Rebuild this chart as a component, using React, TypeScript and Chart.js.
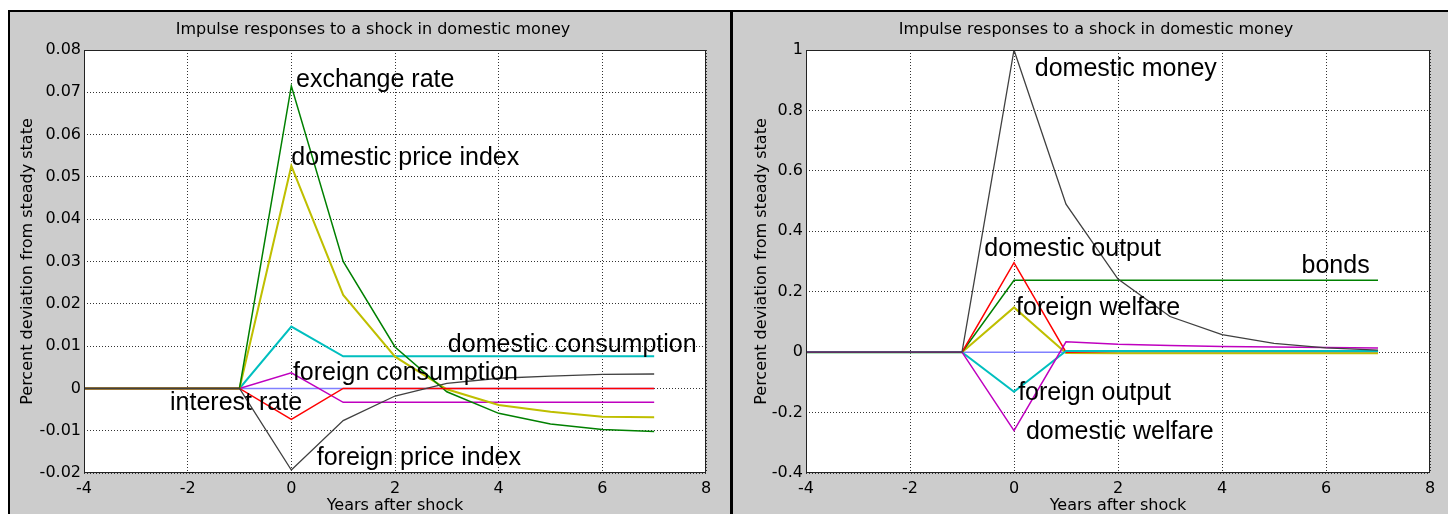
import React, { useEffect, useRef } from "react";
import { Chart, registerables } from "chart.js";

Chart.register(...registerables);

// ---------- data ----------
const years = [-4, -3, -2, -1, 0, 1, 2, 3, 4, 5, 6, 7];
const xTicks = [-4, -2, 0, 2, 4, 6, 8];
const leftYTicks = [-0.02, -0.01, 0, 0.01, 0.02, 0.03, 0.04, 0.05, 0.06, 0.07, 0.08];
const rightYTicks = [-0.4, -0.2, 0, 0.2, 0.4, 0.6, 0.8, 1];

// left panel series
const exchangeRate = [0, 0, 0, 0, 0.0715, 0.03, 0.0098, -0.0008, -0.0059, -0.0084, -0.0097, -0.0102];
const domesticPriceIndex = [0, 0, 0, 0, 0.0526, 0.0221, 0.0075, -0.0002, -0.0039, -0.0055, -0.0067, -0.0068];
const domesticConsumption = [0, 0, 0, 0, 0.0146, 0.0076, 0.0076, 0.0076, 0.0076, 0.0076, 0.0076, 0.0076];
const foreignConsumption = [0, 0, 0, 0, 0.0037, -0.0033, -0.0033, -0.0033, -0.0033, -0.0033, -0.0033, -0.0033];
const interestRate = [0, 0, 0, 0, -0.0073, 0, 0, 0, 0, 0, 0, 0];
const foreignPriceIndex = [0, 0, 0, 0, -0.0193, -0.0076, -0.0018, 0.0012, 0.0024, 0.0029, 0.0033, 0.0034];
const leftFlat = [0, 0, 0, 0, 0, 0, 0, 0, 0, 0, 0, 0];

// right panel series
const domesticMoney = [0, 0, 0, 0, 1, 0.49, 0.242, 0.118, 0.058, 0.029, 0.014, 0.007];
const domesticOutput = [0, 0, 0, 0, 0.296, 0, 0.003, 0.003, 0.003, 0.003, 0.003, 0.003];
const bonds = [0, 0, 0, 0, 0.238, 0.238, 0.238, 0.238, 0.238, 0.238, 0.238, 0.238];
const foreignWelfare = [0, 0, 0, 0, 0.148, -0.003, -0.004, -0.004, -0.004, -0.004, -0.004, -0.004];
const foreignOutput = [0, 0, 0, 0, -0.131, 0.004, 0.004, 0.004, 0.004, 0.004, 0.004, 0.004];
const domesticWelfare = [0, 0, 0, 0, -0.26, 0.034, 0.026, 0.022, 0.019, 0.017, 0.015, 0.014];
const rightFlat = [0, 0, 0, 0, 0, 0, 0, 0, 0, 0, 0, 0];

// text labels (anchored in data coordinates)
const leftLabels = [
  { text: "exchange rate", x: 0.09, y: 0.0713 },
  { text: "domestic price index", x: 0.0, y: 0.0528 },
  { text: "domestic consumption", x: 3.02, y: 0.0087 },
  { text: "foreign consumption", x: 0.03, y: 0.002 },
  { text: "interest rate", x: -2.34, y: -0.0051 },
  { text: "foreign price index", x: 0.49, y: -0.0181 },
];
const rightLabels = [
  { text: "domestic money", x: 0.4, y: 0.915 },
  { text: "domestic output", x: -0.57, y: 0.318 },
  { text: "bonds", x: 5.53, y: 0.261 },
  { text: "foreign welfare", x: 0.04, y: 0.1225 },
  { text: "foreign output", x: 0.08, y: -0.157 },
  { text: "domestic welfare", x: 0.23, y: -0.289 },
];

const TITLE = "Impulse responses to a shock in domestic money";
const AXIS_FONT = '"DejaVu Sans", sans-serif';
const LABEL_FONT = '"Liberation Sans", Arial, sans-serif';

const C = {
  gray: "#404040",
  red: "#ff0000",
  green: "#008000",
  yellow: "#bfbf00",
  magenta: "#bf00bf",
  cyan: "#00bfbf",
  blue: "#8080ff",
};

const toPoints = (vals: number[]) => years.map((x, i) => ({ x, y: vals[i] }));

const framePlugin = {
  id: "frame",
  beforeDraw(chart: any) {
    const { ctx, chartArea } = chart;
    ctx.save();
    ctx.fillStyle = "#ffffff";
    ctx.fillRect(chartArea.left, chartArea.top, chartArea.right - chartArea.left, chartArea.bottom - chartArea.top);
    ctx.restore();
  },
  afterDraw(chart: any, _args: any, opts: any) {
    const { ctx, chartArea } = chart;
    ctx.save();
    ctx.strokeStyle = "#222";
    ctx.lineWidth = 1;
    ctx.setLineDash([]);
    const l = Math.round(chartArea.left) + 0.5;
    const t = Math.round(chartArea.top) + 0.5;
    const r = Math.round(chartArea.right) - 0.5;
    const b = Math.round(chartArea.bottom) - 0.5;
    ctx.strokeRect(l, t, r - l, b - t);

    ctx.fillStyle = "#000";
    ctx.font = `16px ${AXIS_FONT}`;
    ctx.textAlign = "center";
    ctx.textBaseline = "middle";
    ctx.fillText(opts.title, opts.titleX, opts.titleY);

    const xs = chart.scales.x;
    const ys = chart.scales.y;
    ctx.font = `25px ${LABEL_FONT}`;
    ctx.textAlign = "left";
    ctx.textBaseline = "alphabetic";
    for (const lab of opts.labels) {
      ctx.fillText(lab.text, xs.getPixelForValue(lab.x), ys.getPixelForValue(lab.y));
    }
    ctx.restore();
  },
};

type PanelSpec = {
  datasets: { data: number[]; color: string; width?: number }[];
  yTicks: number[];
  labels: { text: string; x: number; y: number }[];
  yAxisWidth: number;
  rightPad: number;
  yTitlePad: number;
};

function buildConfig(spec: PanelSpec): any {
  const yMin = spec.yTicks[0];
  const yMax = spec.yTicks[spec.yTicks.length - 1];
  const gridCommon = { color: "#333", lineWidth: 1, drawTicks: false };
  return {
    type: "line",
    data: {
      datasets: spec.datasets.map((d) => ({
        data: toPoints(d.data),
        borderColor: d.color,
        backgroundColor: d.color,
        borderWidth: d.width ?? 1.5,
        pointRadius: 0,
        tension: 0,
        fill: false,
      })),
    },
    options: {
      responsive: false,
      maintainAspectRatio: false,
      animation: false,
      events: [],
      layout: { padding: { left: 0, right: spec.rightPad, top: 38, bottom: 0 } },
      plugins: {
        legend: { display: false },
        tooltip: { enabled: false },
        title: { display: false },
        frame: { title: TITLE, titleX: 363, titleY: 18, labels: spec.labels },
      },
      scales: {
        x: {
          type: "linear",
          min: xTicks[0],
          max: xTicks[xTicks.length - 1],
          afterBuildTicks: (s: any) => {
            s.ticks = xTicks.map((v) => ({ value: v }));
          },
          afterFit: (s: any) => {
            s.height = 41;
          },
          grid: gridCommon,
          border: { display: false, dash: [1, 2] },
          ticks: {
            padding: 6,
            color: "#000",
            autoSkip: false,
            maxRotation: 0,
            font: { family: AXIS_FONT, size: 16 },
            callback: (v: any) => String(v),
          },
          title: {
            display: true,
            text: "Years after shock",
            color: "#000",
            font: { family: AXIS_FONT, size: 16, lineHeight: 1 },
            padding: { top: 0, bottom: 0 },
          },
        },
        y: {
          type: "linear",
          min: yMin,
          max: yMax,
          afterBuildTicks: (s: any) => {
            s.ticks = spec.yTicks.map((v) => ({ value: v }));
          },
          afterFit: (s: any) => {
            s.width = spec.yAxisWidth;
          },
          grid: gridCommon,
          border: { display: false, dash: [1, 2] },
          ticks: {
            padding: 3,
            color: "#000",
            autoSkip: false,
            font: { family: AXIS_FONT, size: 16 },
            callback: (v: any) => String(+Number(v).toFixed(2)),
          },
          title: {
            display: true,
            text: "Percent deviation from steady state",
            color: "#000",
            font: { family: AXIS_FONT, size: 16, lineHeight: 1 },
            padding: { top: spec.yTitlePad, bottom: 0 },
          },
        },
      },
    },
    plugins: [framePlugin],
  };
}

const leftSpec: PanelSpec = {
  datasets: [
    { data: foreignPriceIndex, color: C.gray, width: 1.3 },
    { data: interestRate, color: C.red },
    { data: exchangeRate, color: C.green },
    { data: domesticPriceIndex, color: C.yellow, width: 2 },
    { data: foreignConsumption, color: C.magenta },
    { data: domesticConsumption, color: C.cyan, width: 2 },
    { data: leftFlat, color: C.blue },
  ],
  yTicks: leftYTicks,
  labels: leftLabels,
  yAxisWidth: 74,
  rightPad: 24,
  yTitlePad: 10,
};

const rightSpec: PanelSpec = {
  datasets: [
    { data: domesticMoney, color: C.gray, width: 1.3 },
    { data: domesticWelfare, color: C.magenta },
    { data: foreignOutput, color: C.cyan, width: 2 },
    { data: domesticOutput, color: C.red },
    { data: bonds, color: C.green },
    { data: foreignWelfare, color: C.yellow, width: 2 },
    { data: rightFlat, color: C.blue },
  ],
  yTicks: rightYTicks,
  labels: rightLabels,
  yAxisWidth: 73,
  rightPad: 18,
  yTitlePad: 21,
};

function Panel({ spec, left, width }: { spec: PanelSpec; left: number; width: number }) {
  const ref = useRef<HTMLCanvasElement | null>(null);
  useEffect(() => {
    if (!ref.current) return;
    const chart = new Chart(ref.current, buildConfig(spec));
    return () => chart.destroy();
  }, []);
  return (
    <canvas
      ref={ref}
      width={width}
      height={502}
      style={{ position: "absolute", left, top: 12, width, height: 502, display: "block" }}
    />
  );
}

export default function App() {
  return (
    <div
      style={{
        position: "fixed",
        left: 0,
        top: 0,
        width: 1448,
        height: 514,
        background: "#ffffff",
        overflow: "hidden",
      }}
    >
      <div style={{ position: "absolute", left: 8, top: 10, width: 1440, height: 504, background: "#000" }} />
      <div style={{ position: "absolute", left: 10, top: 12, width: 1438, height: 502, background: "#cccccc" }} />
      <div style={{ position: "absolute", left: 730, top: 12, width: 3, height: 502, background: "#000" }} />
      <Panel spec={leftSpec} left={10} width={720} />
      <Panel spec={rightSpec} left={733} width={715} />
    </div>
  );
}
